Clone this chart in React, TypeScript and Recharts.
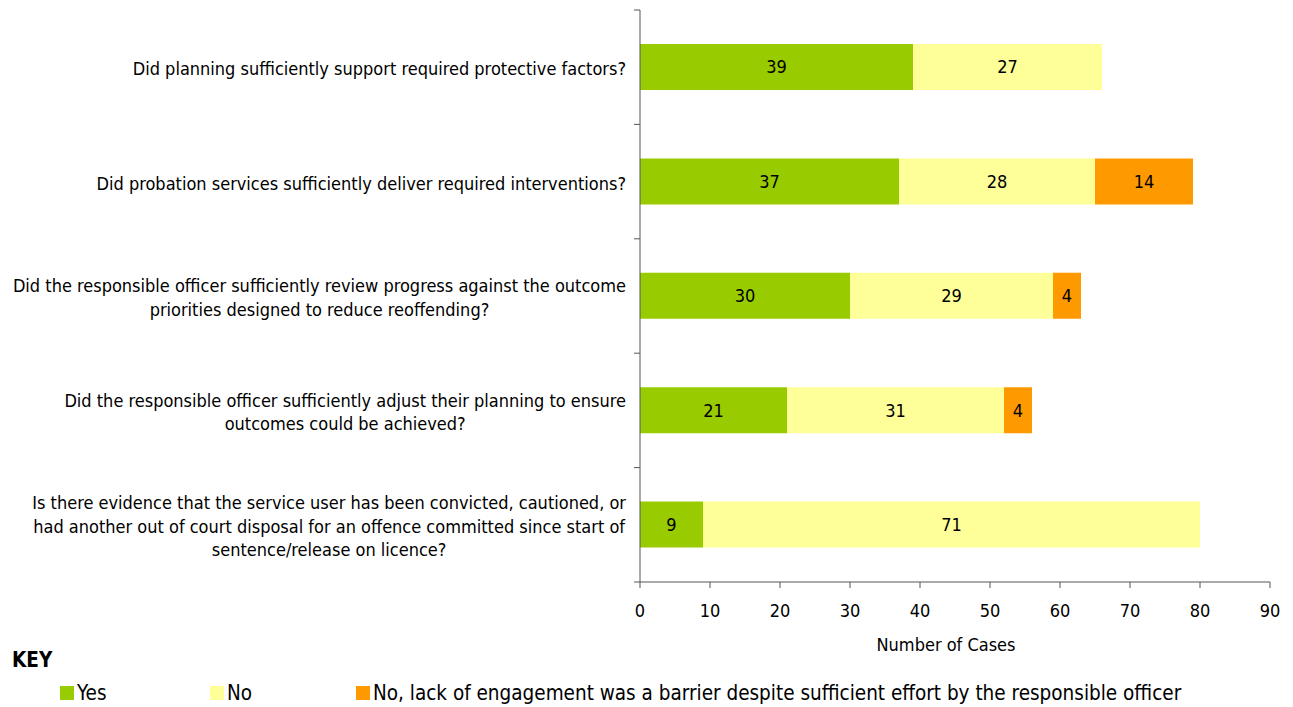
import React from 'react';
import { BarChart, Bar, XAxis, YAxis, LabelList } from 'recharts';

const categories = [
  'Did planning sufficiently support required protective factors?',
  'Did probation services sufficiently deliver required interventions?',
  'Did the responsible officer sufficiently review progress against the outcome\npriorities designed to reduce reoffending?',
  'Did the responsible officer sufficiently adjust their planning to ensure\noutcomes could be achieved?',
  'Is there evidence that the service user has been convicted, cautioned, or\nhad another out of court disposal for an offence committed since start of\nsentence/release on licence?',
];
const yesValues = [39, 37, 30, 21, 9];
const noValues = [27, 28, 29, 31, 71];
const barrierValues = [0, 14, 4, 4, 0];
const xTicks = [0, 10, 20, 30, 40, 50, 60, 70, 80, 90];

const seriesNames = {
  yes: 'Yes',
  no: 'No',
  barrier: 'No, lack of engagement was a barrier despite sufficient effort by the responsible officer',
};

const FONT = "'DejaVu Sans Condensed', 'DejaVu Sans', sans-serif";
const FS = 18;
const KEY_FS = 20.5;
const AXIS = '#555';
const colors = { yes: '#99CC00', no: '#FFFF99', barrier: '#FF9900' };

const data = categories.map((c, i) => ({
  category: c,
  yes: yesValues[i],
  no: noValues[i],
  barrier: barrierValues[i],
}));

let ctx: CanvasRenderingContext2D | null = null;
function measure(text: string) {
  if (!ctx) ctx = document.createElement('canvas').getContext('2d');
  if (!ctx) return text.length * 9;
  ctx.font = `${FS}px ${FONT}`;
  return ctx.measureText(text).width;
}

function CategoryTick(props: any) {
  const { x, y, payload, index } = props;
  const lines = String(payload.value).split('\n');
  const half = payload.offset && payload.offset > 0 ? payload.offset : 57.2;
  const axisX = x + 14;
  const lh = 23.5;
  const maxW = Math.max(...lines.map(measure));
  const cx = x - maxW / 2;
  const y0 = y + 1.5 - ((lines.length - 1) * lh) / 2;
  return (
    <g>
      <line x1={axisX - 6} x2={axisX} y1={y - half} y2={y - half} stroke={AXIS} strokeWidth={1} />
      {index === categories.length - 1 && (
        <line x1={axisX - 6} x2={axisX} y1={y + half} y2={y + half} stroke={AXIS} strokeWidth={1} />
      )}
      {lines.map((l, i) => (
        <text key={i} x={cx} y={y0 + i * lh} dy="0.36em" textAnchor="middle" fontSize={FS} fontFamily={FONT} fill="#000">
          {l}
        </text>
      ))}
    </g>
  );
}

const hideZero = (v: any) => (v ? v : '');

function Swatch({ color, label, left }: { color: string; label: string; left: number }) {
  return (
    <div style={{ position: 'absolute', left, top: 680, height: 26, display: 'flex', alignItems: 'center' }}>
      <div style={{ width: 14, height: 14, background: color, marginRight: 3 }} />
      <span style={{ fontSize: KEY_FS, lineHeight: '26px', fontFamily: FONT, color: '#000' }}>{label}</span>
    </div>
  );
}

export default function App() {
  return (
    <div style={{ position: 'fixed', top: 0, left: 0, width: 1293, height: 707, background: '#fff', overflow: 'hidden' }}>
      <BarChart
        width={1293}
        height={665}
        data={data}
        layout="vertical"
        margin={{ top: 10, right: 23, bottom: 0, left: 0 }}
        barSize={46}
      >
        <XAxis
          type="number"
          domain={[0, 90]}
          ticks={xTicks}
          interval={0}
          height={83}
          stroke={AXIS}
          tickSize={6}
          tickMargin={16}
          tick={{ fill: '#000', fontSize: FS, fontFamily: FONT }}
          label={{ value: 'Number of Cases', position: 'insideBottom', offset: 14, dx: -9, fill: '#000', fontSize: FS, fontFamily: FONT }}
        />
        <YAxis
          type="category"
          dataKey="category"
          width={640}
          stroke={AXIS}
          tickLine={false}
          tickSize={6}
          tickMargin={8}
          interval={0}
          tick={<CategoryTick />}
        />
        <Bar dataKey="yes" name={seriesNames.yes} stackId="a" fill={colors.yes} isAnimationActive={false}>
          <LabelList dataKey="yes" position="center" formatter={hideZero} fill="#000" fontSize={FS} fontFamily={FONT} />
        </Bar>
        <Bar dataKey="no" name={seriesNames.no} stackId="a" fill={colors.no} isAnimationActive={false}>
          <LabelList dataKey="no" position="center" formatter={hideZero} fill="#000" fontSize={FS} fontFamily={FONT} />
        </Bar>
        <Bar dataKey="barrier" name={seriesNames.barrier} stackId="a" fill={colors.barrier} isAnimationActive={false}>
          <LabelList dataKey="barrier" position="center" formatter={hideZero} fill="#000" fontSize={FS} fontFamily={FONT} />
        </Bar>
      </BarChart>
      <div style={{ position: 'absolute', left: 12, top: 648, fontSize: KEY_FS, fontWeight: 'bold', fontFamily: FONT, color: '#000' }}>
        KEY
      </div>
      <Swatch color={colors.yes} label={seriesNames.yes} left={60} />
      <Swatch color={colors.no} label={seriesNames.no} left={210} />
      <Swatch color={colors.barrier} label={seriesNames.barrier} left={356} />
    </div>
  );
}
